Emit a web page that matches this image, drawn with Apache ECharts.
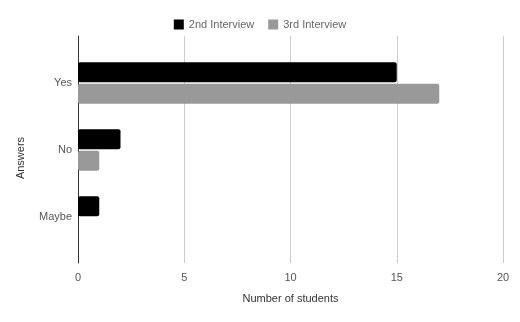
<!DOCTYPE html>
<html><head><meta charset="utf-8">
<script src="https://cdn.jsdelivr.net/npm/echarts@6/dist/echarts.min.js"></script>
<style>html,body{margin:0;padding:0;background:#fff}#c{width:520px;height:322px}</style>
</head><body><div id="c"></div>
<script>
const categories = ['Yes', 'No', 'Maybe'];
const seriesNames = ['2nd Interview', '3rd Interview'];
const interview2 = [15, 2, 1];
const interview3 = [17, 1, 0];
const xTicks = [0, 5, 10, 15, 20];

const font = 'Liberation Sans, Arial, sans-serif';
const chart = echarts.init(document.getElementById('c'), null, {renderer: 'canvas'});
chart.setOption({
  animation: false,
  backgroundColor: '#fff',
  textStyle: {fontFamily: font},
  legend: {
    top: 14, left: 'center', itemWidth: 10, itemHeight: 10, itemGap: 14,
    icon: 'rect',
    textStyle: {fontSize: 11, color: '#666', fontFamily: font},
    data: seriesNames
  },
  grid: [
    {left: 78, width: 425, top: 36, height: 227},
    {left: 78, width: 425, top: 49.5, height: 201}
  ],
  xAxis: [
    {gridIndex: 0, type: 'value', min: xTicks[0], max: xTicks[xTicks.length - 1], interval: 5,
     axisLine: {show: false}, axisTick: {show: false},
     splitLine: {lineStyle: {color: '#cccccc'}},
     axisLabel: {fontSize: 11, color: '#555', margin: 9, fontFamily: font},
     name: 'Number of students', nameLocation: 'middle', nameGap: 30,
     nameTextStyle: {fontSize: 11, color: '#333', fontFamily: font}},
    {gridIndex: 1, type: 'value', min: xTicks[0], max: xTicks[xTicks.length - 1], show: false}
  ],
  yAxis: [
    {gridIndex: 0, type: 'category', data: categories, inverse: true,
     axisLine: {show: true, lineStyle: {color: '#333'}}, axisTick: {show: false},
     axisLabel: {show: false},
     name: 'Answers', nameLocation: 'middle', nameGap: 52, nameRotate: 90,
     nameTextStyle: {fontSize: 11, color: '#333', fontFamily: font, padding: [0, 17, 0, 0]}},
    {gridIndex: 1, type: 'category', data: categories, inverse: true,
     axisLine: {show: false}, axisTick: {show: false},
     axisLabel: {fontSize: 11, color: '#555', margin: 6, fontFamily: font}}
  ],
  series: [
    {name: seriesNames[0], type: 'bar', xAxisIndex: 1, yAxisIndex: 1, data: interview2,
     barWidth: 20, barGap: '8%', itemStyle: {color: '#000000', borderRadius: 2}},
    {name: seriesNames[1], type: 'bar', xAxisIndex: 1, yAxisIndex: 1, data: interview3,
     barWidth: 20, itemStyle: {color: '#999999', borderRadius: 2}}
  ]
});
</script></body></html>
